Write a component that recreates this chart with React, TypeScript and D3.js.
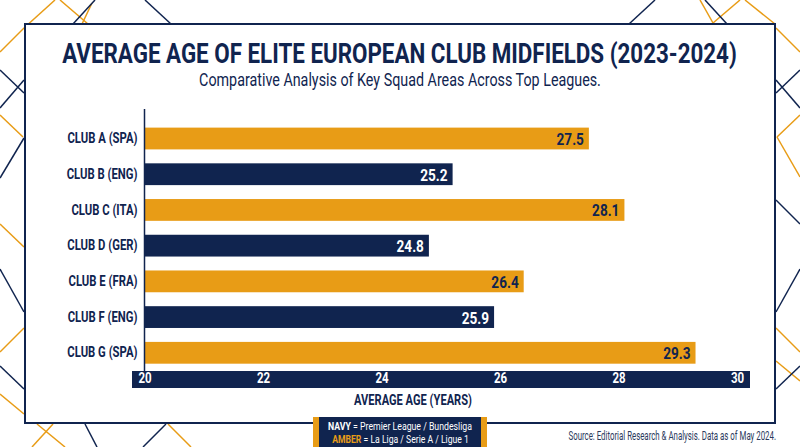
import React, { useRef, useEffect } from 'react'
import * as d3 from 'd3'

const width = 800
const height = 447

const NAVY = '#10244f'
const AMBER = '#e89c16'
const FONT = 'Roboto, sans-serif'

const clubs = ['CLUB A (SPA)', 'CLUB B (ENG)', 'CLUB C (ITA)', 'CLUB D (GER)', 'CLUB E (FRA)', 'CLUB F (ENG)', 'CLUB G (SPA)']
const ages = [27.5, 25.2, 28.1, 24.8, 26.4, 25.9, 29.3]
const groups = ['amber', 'navy', 'amber', 'navy', 'amber', 'navy', 'amber']
const xTicks = [20, 22, 24, 26, 28, 30]

// background decoration, x1 y1 x2 y2
const bgNavy = [
  [95, 0, 73, 24], [145, 0, 171, 24], [655, 0, 629, 24], [705, 0, 727, 24],
  [0, 70, 24, 93], [24, 80, 0, 108], [24, 138, 0, 178], [0, 269, 24, 312], [0, 366, 24, 389],
  [776, 93, 800, 70], [776, 80, 800, 108], [776, 200, 800, 224], [776, 312, 800, 269], [776, 389, 800, 366],
  [85, 424, 97, 447], [166, 424, 143, 447],
]
const bgAmber = [
  [55, 0, 24, 28], [60, 0, 88, 24], [92, 3, 82, 24], [700, 0, 713, 23], [713, 23, 740, 0], [745, 0, 775, 24],
  [24, 28, 0, 52], [0, 115, 23, 137], [0, 224, 24, 247], [24, 328, 0, 352], [0, 394, 24, 414],
  [776, 28, 800, 52], [777, 137, 800, 115], [777, 137, 800, 177], [776, 328, 800, 352], [776, 361, 800, 381],
  [37, 424, 65, 447], [53, 424, 32, 447], [168, 424, 191, 447],
]

// no condensed face is installed, so squeeze text horizontally about its own x
const squeeze = (sel: d3.Selection<any, any, any, any>, sx: number) => {
  sel.each(function () {
    const t = d3.select(this)
    const px = +(t.attr('x') ?? 0)
    t.attr('x', 0).attr('transform', `translate(${px},0) scale(${sx},1)`)
  })
}

const App: React.FC = () => {
  const svgRef = useRef<SVGSVGElement | null>(null)

  useEffect(() => {
    if (!svgRef.current) return
    const svg = d3.select(svgRef.current)
    svg.selectAll('*').remove()

    const x = d3.scaleLinear().domain([20, 30]).range([144.5, 737])
    const y = d3.scaleBand<string>()
      .domain(clubs)
      .range([120.65, 370.65])
      .paddingInner(0.39)
      .paddingOuter(0.195)

    svg.append('rect').attr('width', width).attr('height', height).attr('fill', '#fff')

    // background lines
    const drawLines = (rows: number[][], color: string) => {
      svg.append('g').selectAll('line').data(rows).join('line')
        .attr('x1', d => d[0]).attr('y1', d => d[1])
        .attr('x2', d => d[2]).attr('y2', d => d[3])
        .attr('stroke', color)
        .attr('stroke-width', 1.5)
    }
    drawLines(bgAmber, AMBER)
    drawLines(bgNavy, NAVY)

    // white panel
    svg.append('rect')
      .attr('x', 25).attr('y', 24).attr('width', 750).attr('height', 399)
      .attr('fill', '#fff').attr('stroke', NAVY).attr('stroke-width', 2)

    // text squeezed to the width it has in the picture
    const addText = (tx: number, ty: number, label: string, size: number, weight: string, color: string, target: number, anchor = 'middle') => {
      const t = svg.append('text')
        .attr('x', tx).attr('y', ty)
        .attr('text-anchor', anchor)
        .attr('font-family', FONT)
        .attr('font-size', size)
        .attr('font-weight', weight)
        .attr('fill', color)
        .text(label)
      return { t, fit: () => squeeze(t, target / (t.node() as SVGTextElement).getComputedTextLength()) }
    }

    addText(399.5, 63, 'AVERAGE AGE OF ELITE EUROPEAN CLUB MIDFIELDS (2023-2024)', 28, 'bold', NAVY, 675).fit()
    addText(400, 86, 'Comparative Analysis of Key Squad Areas Across Top Leagues.', 18, 'normal', NAVY, 402).fit()

    // bars
    const rows = clubs.map((c, i) => ({ club: c, age: ages[i], group: groups[i] }))
    svg.append('g').selectAll('rect').data(rows).join('rect')
      .attr('x', x(20))
      .attr('y', d => y(d.club)!)
      .attr('width', d => x(d.age) - x(20))
      .attr('height', y.bandwidth())
      .attr('fill', d => (d.group === 'navy' ? NAVY : AMBER))

    const values = svg.append('g').selectAll('text').data(rows).join('text')
      .attr('x', d => x(d.age) - 5)
      .attr('y', d => y(d.club)! + y.bandwidth() / 2 + 6.5)
      .attr('text-anchor', 'end')
      .attr('font-family', FONT)
      .attr('font-size', 17)
      .attr('font-weight', 'bold')
      .attr('fill', d => (d.group === 'navy' ? '#fff' : NAVY))
      .text(d => d.age.toFixed(1))
    squeeze(values, 0.8)

    // category axis
    const yAxis = svg.append('g')
      .attr('transform', `translate(${x(20)},0)`)
      .call(d3.axisLeft(y).tickSize(0).tickPadding(7))
    yAxis.select('.domain').remove()
    const yLabels = yAxis.selectAll('text')
      .attr('font-family', FONT)
      .attr('font-size', 14.5)
      .attr('font-weight', 'bold')
      .attr('fill', NAVY)
    squeeze(yLabels, 0.78)
    svg.append('line')
      .attr('x1', x(20)).attr('x2', x(20)).attr('y1', 109).attr('y2', 371)
      .attr('stroke', NAVY).attr('stroke-width', 1.5)

    // value axis on its navy band
    svg.append('rect')
      .attr('x', 132).attr('y', 371).attr('width', 618).attr('height', 17)
      .attr('fill', NAVY)
    const xAxis = svg.append('g')
      .attr('transform', 'translate(0,371)')
      .call(d3.axisBottom(x).tickValues(xTicks).tickSize(0).tickPadding(2))
    xAxis.select('.domain').remove()
    const xLabels = xAxis.selectAll('text')
      .attr('font-family', FONT)
      .attr('font-size', 14)
      .attr('font-weight', 'bold')
      .attr('fill', '#fff')
    squeeze(xLabels, 0.82)

    addText(413, 405, 'AVERAGE AGE (YEARS)', 14.5, 'bold', NAVY, 118).fit()

    // legend box
    svg.append('rect').attr('x', 313).attr('y', 417).attr('width', 174).attr('height', 30).attr('fill', AMBER)
    svg.append('rect').attr('x', 319).attr('y', 417).attr('width', 162).attr('height', 30).attr('fill', NAVY)
    const legendA = addText(400, 430, '', 11.5, 'normal', '#fff', 144)
    legendA.t.append('tspan').attr('font-weight', 'bold').text('NAVY')
    legendA.t.append('tspan').text(' = Premier League / Bundesliga')
    legendA.fit()
    const legendB = addText(400.5, 443.5, '', 11.5, 'normal', '#fff', 137)
    legendB.t.append('tspan').attr('font-weight', 'bold').attr('fill', AMBER).text('AMBER')
    legendB.t.append('tspan').text(' = La Liga / Serie A / Ligue 1')
    legendB.fit()

    addText(776, 440, 'Source: Editorial Research & Analysis. Data as of May 2024.', 12, 'normal', '#2b3a5c', 208, 'end').fit()
  }, [])

  return <svg ref={svgRef} width={width} height={height} style={{ position: 'absolute', left: 0, top: 0 }} />
}

export default App
